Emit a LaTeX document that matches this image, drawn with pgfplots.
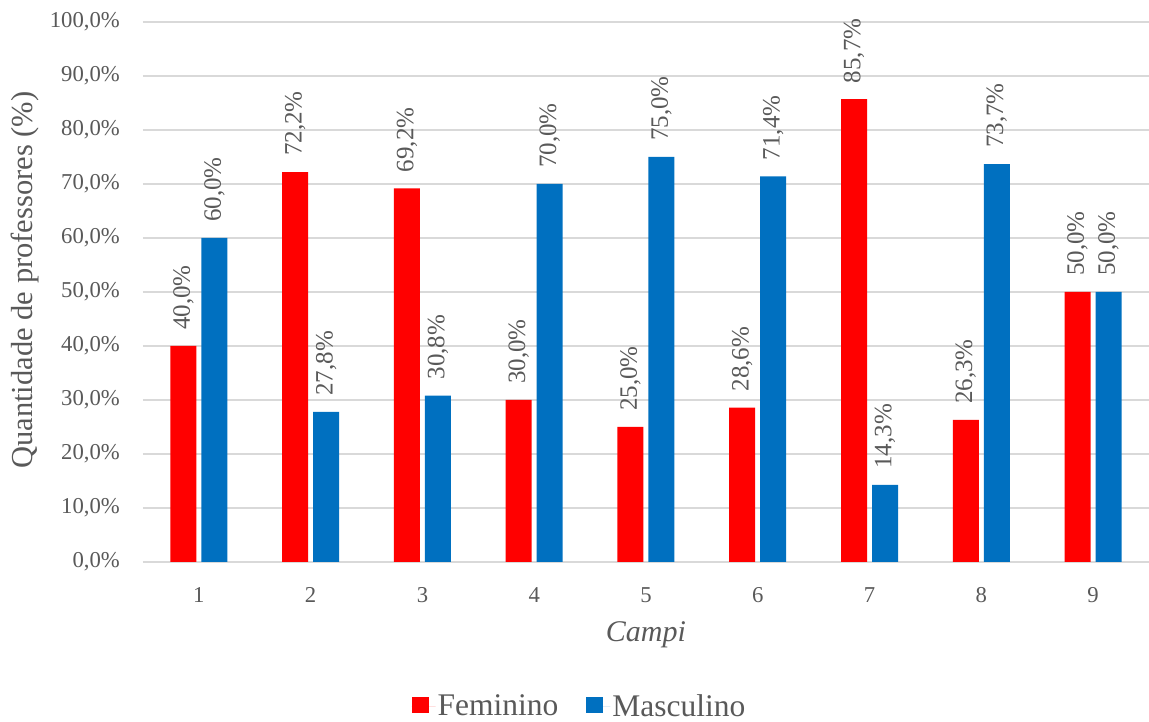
\documentclass[border=0pt]{standalone}
\usepackage{pgfplots}
\pgfplotsset{compat=1.18}
\usepackage{fontspec}
\setmainfont{Liberation Serif}
\definecolor{txtgray}{HTML}{595959}
\definecolor{gridgray}{HTML}{D9D9D9}
\definecolor{fem}{HTML}{FF0000}
\definecolor{mas}{HTML}{0070C0}
\begin{document}
\begin{tikzpicture}
\begin{axis}[
  scale only axis,
  width=1006pt, height=540pt,
  xmin=0.5, xmax=9.5, ymin=0, ymax=100,
  enlarge x limits=false,
  clip=false,
  ybar=5pt, bar width=26pt,
  xtick={1,2,3,4,5,6,7,8,9},
  ytick={0,10,20,30,40,50,60,70,80,90,100},
  /pgf/number format/assume math mode=true,
  yticklabel={\pgfmathprintnumber[fixed,fixed zerofill,precision=1,use comma]{\tick}\%},
  tick style={draw=none},
  axis line style={draw=none},
  ymajorgrids, grid style={gridgray, line width=1.3pt},
  ticklabel style={text=txtgray, font=\fontsize{22.7}{26}\selectfont},
  yticklabel style={inner xsep=0pt, xshift=-23pt},
  xticklabel style={inner ysep=0pt, yshift=-21pt},
  xlabel={\textit{Campi}},
  xlabel style={at={(axis description cs:0.5,0)}, anchor=base, yshift=-80pt, text=txtgray, font=\fontsize{30}{34}\selectfont},
  ylabel={Quantidade de professores (\%)},
  ylabel style={at={([xshift=-118pt]axis description cs:0,0.522)}, anchor=center, text=txtgray, font=\fontsize{30.5}{34}\selectfont},
  nodes near coords={\pgfmathprintnumber[fixed,fixed zerofill,precision=1,use comma]{\pgfplotspointmeta}\%},
  every node near coord/.append style={rotate=90, anchor=west, inner xsep=16pt, inner ysep=0pt, text=txtgray, font=\fontsize{25}{28}\selectfont},
  legend columns=2,
  legend style={draw=none, fill=none, at={(rel axis cs:0.434,-0.267)}, anchor=center,
    font=\fontsize{31.5}{34}\selectfont, text=txtgray,
    /tikz/every even column/.append style={column sep=26pt}},
  legend image code/.code={\path (0pt,0pt) -- (24pt,0pt); \fill[#1] (0pt,-7pt) rectangle (17pt,9pt);},
]
\addplot[fill=fem, draw=none] coordinates {(1,40.0) (2,72.2) (3,69.2) (4,30.0) (5,25.0) (6,28.6) (7,85.7) (8,26.3) (9,50.0)};
\addplot[fill=mas, draw=none] coordinates {(1,60.0) (2,27.8) (3,30.8) (4,70.0) (5,75.0) (6,71.4) (7,14.3) (8,73.7) (9,50.0)};
\legend{Feminino, Masculino}
\end{axis}
\pgfresetboundingbox
\path (current axis.south west) ++(-143pt,-160pt) rectangle ++(1149pt,722pt);
\end{tikzpicture}
\end{document}
